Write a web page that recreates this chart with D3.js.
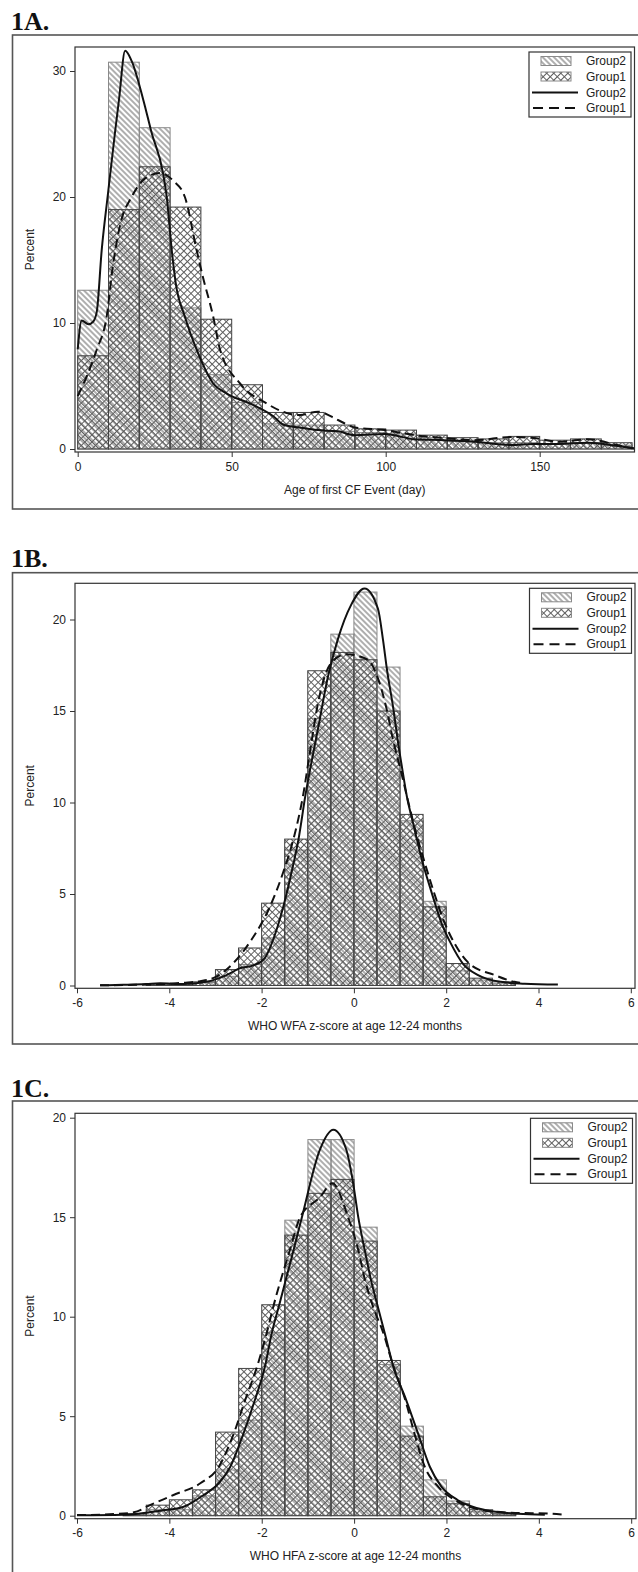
<!DOCTYPE html>
<html>
<head>
<meta charset="utf-8">
<script src="https://cdn.jsdelivr.net/npm/d3@7"></script>
<style>
  body { margin: 0; background: #fff; }
  svg { display: block; }
  text { font-family: "Liberation Sans", Arial, sans-serif; fill: #222; }
</style>
</head>
<body>
<svg id="chart" width="638" height="1572"></svg>
<script>
// ---- 1A: age of first CF event, 10 day bins (percent) ----
var binStartA = [0, 10, 20, 30, 40, 50, 60, 70, 80, 90, 100, 110, 120, 130, 140, 150, 160, 170]
var pctG2A = [12.6, 30.7, 25.5, 11.2, 5.9, 3.7, 2.0, 1.9, 1.4, 1.3, 1.2, 0.9, 0.7, 0.5, 0.5, 0.4, 0.5, 0.3]
var pctG1A = [7.4, 19.0, 22.4, 19.2, 10.3, 5.1, 2.9, 2.9, 1.9, 1.6, 1.5, 1.1, 0.9, 0.8, 1.0, 0.7, 0.8, 0.5]
var kdeG2A = [[0,7.9],[1.3,10.2],[3.5,9.9],[5,10.1],[6.2,10.9],[7.8,15.8],[9.7,20],[12.1,25.1],[13.4,27.7],
  [15.4,31.6],[17.5,30.8],[21.3,27.7],[24,25.1],[27.7,21.9],[28.9,20],[30.7,15.4],[31.8,13.2],[34.8,10.5],
  [38.6,7.9],[44,5.2],[48.4,4.4],[56,3.6],[63.5,2.6],[67,1.9],[72,1.7],[78,1.5],[84.5,1.4],[90,1.1],
  [99.7,1.2],[109.4,0.77],[119,0.7],[129,0.58],[140.7,0.32],[148,0.4],[156,0.4],[165.7,0.5],[175.4,0.24],[180.8,0.05]]
var kdeG1A = [[0,4.2],[3,5.8],[6.2,7.9],[9.4,10.5],[11.4,14.5],[14,18],[17.5,20],[22,21.5],[26.7,21.9],
  [31,21.3],[34.8,20],[38.6,15.8],[40.5,13.8],[44,10.5],[46.2,7.9],[52.7,5.2],[61.4,3.6],[67.9,2.85],
  [72.2,2.7],[78,2.96],[84.5,2.3],[90,1.7],[99.7,1.5],[109.4,1.1],[119,0.87],[129,0.7],[140.7,0.95],
  [148,0.87],[156,0.58],[165.7,0.77],[175.4,0.3],[180.8,0.02]]
var xTicksA = [0, 50, 100, 150]
var yTicksA = [0, 10, 20, 30]

// ---- 1B: WHO WFA z-score, 0.5 bins ----
var binStartB = [-4.5, -4, -3.5, -3, -2.5, -2, -1.5, -1, -0.5, 0, 0.5, 1, 1.5, 2, 2.5, 3]
var pctG2B = [0.05, 0.1, 0.15, 0.5, 1.15, 2.6, 7.4, 14.6, 19.2, 21.5, 17.4, 9.0, 4.6, 0.8, 0.3, 0.1]
var pctG1B = [0.1, 0.1, 0.2, 0.87, 2.05, 4.5, 8.0, 17.2, 18.2, 17.8, 15.0, 9.35, 4.3, 1.2, 0.4, 0.2]
var kdeG2B = [[-5.5,0.01],[-5,0.04],[-4.5,0.08],[-4.2,0.12],[-3.7,0.08],[-3.2,0.2],[-2.76,0.57],[-2.47,0.94],
  [-2.18,1.1],[-1.93,1.5],[-1.75,2.5],[-1.53,4.3],[-1.35,6.2],[-1.2,8.0],[-1.05,10.4],[-0.78,14.0],
  [-0.56,16.9],[-0.35,18.9],[-0.06,20.8],[0.23,21.7],[0.52,20.6],[0.63,18.9],[0.72,17.2],[0.85,15.2],
  [0.95,13.4],[1.05,11.8],[1.15,10.3],[1.28,8.9],[1.46,7.0],[1.67,5.2],[1.9,3.4],[2.1,2.3],[2.36,1.2],
  [2.69,0.57],[3.18,0.2],[3.7,0.1],[4.42,0.05]]
var kdeG1B = [[-5.5,0.01],[-4.5,0.05],[-3.7,0.15],[-3.33,0.24],[-2.97,0.5],[-2.61,1.23],[-2.22,2.5],
  [-1.82,4.3],[-1.53,6.2],[-1.31,8.0],[-1.1,10.4],[-0.95,12.8],[-0.78,15.4],[-0.5,17.6],[-0.17,18.1],
  [0.3,17.8],[0.48,17.06],[0.7,15.2],[0.85,13.4],[1.03,11.6],[1.2,9.8],[1.35,8.3],[1.5,7.0],[1.72,5.2],
  [1.97,3.4],[2.18,2.3],[2.5,1.2],[3.05,0.57],[3.48,0.2],[3.6,0.15]]
var xTicksB = [-6, -4, -2, 0, 2, 4, 6]
var yTicksB = [0, 5, 10, 15, 20]

// ---- 1C: WHO HFA z-score, 0.5 bins ----
var binStartC = [-5, -4.5, -4, -3.5, -3, -2.5, -2, -1.5, -1, -0.5, 0, 0.5, 1, 1.5, 2, 2.5, 3]
var pctG2C = [0.05, 0.3, 0.3, 1.0, 2.3, 4.8, 9.2, 14.85, 18.9, 18.9, 14.5, 7.6, 4.5, 1.8, 0.74, 0.2, 0.05]
var pctG1C = [0.1, 0.53, 0.8, 1.3, 4.2, 7.4, 10.6, 14.1, 16.2, 16.9, 13.8, 7.8, 4.0, 0.95, 0.6, 0.3, 0.1]
var kdeG2C = [[-6,0.02],[-5,0.05],[-4.67,0.1],[-4.2,0.25],[-3.69,0.45],[-3.26,1.04],[-2.93,1.63],[-2.68,2.46],
  [-2.4,4.1],[-2.15,5.8],[-1.93,7.5],[-1.78,9.2],[-1.62,10.6],[-1.31,13.35],[-1.13,15.0],[-0.74,18.4],
  [-0.45,19.4],[-0.17,18.4],[-0.02,16.7],[0.09,15.0],[0.23,13.35],[0.38,11.7],[0.48,10.8],[0.66,9.2],
  [0.85,7.5],[1.13,5.8],[1.39,4.1],[1.64,2.46],[1.89,1.46],[2.24,0.79],[2.83,0.29],[3.55,0.1],[4.13,0.05]]
var kdeG1C = [[-6,0.03],[-5.2,0.08],[-4.77,0.17],[-4.41,0.54],[-3.91,1.04],[-3.33,1.63],[-2.93,2.46],
  [-2.61,4.1],[-2.36,5.8],[-2.1,7.5],[-1.89,9.2],[-1.75,10.5],[-1.39,13.35],[-1.17,15.0],[-0.74,16.0],
  [-0.47,16.7],[-0.13,15.0],[0.09,13.35],[0.23,11.9],[0.41,10.5],[0.63,9.2],[0.85,7.5],[1.11,5.8],
  [1.31,4.1],[1.53,2.46],[1.82,1.46],[2.18,0.79],[2.76,0.29],[3.4,0.15],[4.27,0.1],[4.53,0.05]]
var xTicksC = [-6, -4, -2, 0, 2, 4, 6]
var yTicksC = [0, 5, 10, 15, 20]

var legendLabels = ['Group2', 'Group1', 'Group2', 'Group1']

var svg = d3.select('#chart')
var defs = svg.append('defs')

// hatch fills: Group2 single diagonal, Group1 cross hatch
var pG2 = defs.append('pattern')
    .attr('id', 'hatchG2')
    .attr('patternUnits', 'userSpaceOnUse')
    .attr('width', 4).attr('height', 4)
    .attr('patternTransform', 'rotate(-45)')
pG2.append('line')
    .attr('x1', 2).attr('y1', 0).attr('x2', 2).attr('y2', 4)
    .attr('stroke', '#5e5e5e').attr('stroke-width', 1)

var pG1 = defs.append('pattern')
    .attr('id', 'hatchG1')
    .attr('patternUnits', 'userSpaceOnUse')
    .attr('width', 5).attr('height', 5)
    .attr('patternTransform', 'rotate(45)')
pG1.append('line')
    .attr('x1', 2.5).attr('y1', 0).attr('x2', 2.5).attr('y2', 5)
    .attr('stroke', '#5e5e5e').attr('stroke-width', 1)
pG1.append('line')
    .attr('x1', 0).attr('y1', 2.5).attr('x2', 5).attr('y2', 2.5)
    .attr('stroke', '#5e5e5e').attr('stroke-width', 1)


function drawPanel(p) {
    var g = svg.append('g')

    g.append('text')
        .attr('x', 11).attr('y', p.titleY)
        .style('font-family', '"Liberation Serif", "Times New Roman", serif')
        .style('font-weight', 'bold')
        .style('font-size', '26px')
        .style('fill', '#111')
        .text(p.title)

    // outer box (runs off the right edge like the scan)
    g.append('rect')
        .attr('x', 12.5).attr('y', p.outerTop)
        .attr('width', 640).attr('height', p.outerBottom - p.outerTop)
        .attr('fill', 'none')
        .attr('stroke', '#555')
        .attr('stroke-width', 1.6)

    var x = d3.scaleLinear().domain(p.xDomain).range(p.xRange)
    var y = d3.scaleLinear().domain(p.yDomain).range(p.yRange)

    var clipId = 'clip' + p.title.replace('.', '')
    defs.append('clipPath').attr('id', clipId)
        .append('rect')
        .attr('x', p.left).attr('y', p.top)
        .attr('width', p.right - p.left).attr('height', p.bottom - p.top)

    var plot = g.append('g').attr('clip-path', 'url(#' + clipId + ')')

    // Group2 bars then Group1 on top; both are see-through hatches
    plot.selectAll('rect.g2')
        .data(p.bins)
        .join('rect')
        .attr('class', 'g2')
        .attr('x', function(d) { return x(d) })
        .attr('width', function(d) { return x(d + p.binWidth) - x(d) })
        .attr('y', function(d, i) { return y(p.g2[i]) })
        .attr('height', function(d, i) { return y(0) - y(p.g2[i]) })
        .attr('fill', 'url(#hatchG2)')
        .attr('stroke', '#8a8a8a')
        .attr('stroke-width', 1)

    plot.selectAll('rect.g1')
        .data(p.bins)
        .join('rect')
        .attr('class', 'g1')
        .attr('x', function(d) { return x(d) })
        .attr('width', function(d) { return x(d + p.binWidth) - x(d) })
        .attr('y', function(d, i) { return y(p.g1[i]) })
        .attr('height', function(d, i) { return y(0) - y(p.g1[i]) })
        .attr('fill', 'url(#hatchG1)')
        .attr('stroke', '#444')
        .attr('stroke-width', 1)

    var line = d3.line()
        .x(function(d) { return x(d[0]) })
        .y(function(d) { return y(d[1]) })
        .curve(d3.curveMonotoneX)

    plot.append('path')
        .datum(p.kdeG1)
        .attr('d', line)
        .attr('fill', 'none')
        .attr('stroke', '#111')
        .attr('stroke-width', 2)
        .attr('stroke-dasharray', '9,5')

    plot.append('path')
        .datum(p.kdeG2)
        .attr('d', line)
        .attr('fill', 'none')
        .attr('stroke', '#111')
        .attr('stroke-width', 2)

    // plot frame
    g.append('rect')
        .attr('x', p.left).attr('y', p.top)
        .attr('width', p.right - p.left).attr('height', p.bottom - p.top)
        .attr('fill', 'none')
        .attr('stroke', '#333')
        .attr('stroke-width', 1.2)

    // plain hyphen minus, like the original
    var fmt = function(d) { return String(d) }

    var yAxis = g.append('g')
        .attr('transform', 'translate(' + p.left + ',0)')
        .call(d3.axisLeft(y).tickValues(p.yTicks).tickFormat(fmt).tickSize(5).tickPadding(4))
    var xAxis = g.append('g')
        .attr('transform', 'translate(0,' + p.bottom + ')')
        .call(d3.axisBottom(x).tickValues(p.xTicks).tickFormat(fmt).tickSize(5).tickPadding(5))

    ;[yAxis, xAxis].forEach(function(a) {
        a.select('.domain').remove()
        a.selectAll('line').attr('stroke', '#333')
        a.selectAll('text')
            .style('font-family', '"Liberation Sans", Arial, sans-serif')
            .style('font-size', '12px')
            .attr('fill', '#222')
    })

    g.append('text')
        .attr('x', (p.left + p.right) / 2)
        .attr('y', p.bottom + 41.5)
        .attr('text-anchor', 'middle')
        .style('font-size', '12px')
        .text(p.xLabel)

    g.append('text')
        .attr('transform', 'translate(34,' + ((p.top + p.bottom) / 2) + ') rotate(-90)')
        .attr('text-anchor', 'middle')
        .style('font-size', '12px')
        .text('Percent')

    // legend
    var lx = p.right - 105.5
    var ly = p.top + 5
    var lg = g.append('g').attr('transform', 'translate(' + lx + ',' + ly + ')')
    lg.append('rect')
        .attr('width', 102).attr('height', 65)
        .attr('fill', '#fff')
        .attr('stroke', '#333')
        .attr('stroke-width', 1.2)

    var rowY = [9, 24.5, 40.5, 56]
    lg.append('rect').attr('x', 12).attr('y', rowY[0] - 4.5).attr('width', 30).attr('height', 9)
        .attr('fill', 'url(#hatchG2)').attr('stroke', '#8a8a8a')
    lg.append('rect').attr('x', 12).attr('y', rowY[1] - 4.5).attr('width', 30).attr('height', 9)
        .attr('fill', 'url(#hatchG1)').attr('stroke', '#8a8a8a')
    lg.append('line').attr('x1', 3).attr('x2', 49).attr('y1', rowY[2]).attr('y2', rowY[2])
        .attr('stroke', '#111').attr('stroke-width', 2)
    lg.append('line').attr('x1', 4).attr('x2', 49).attr('y1', rowY[3]).attr('y2', rowY[3])
        .attr('stroke', '#111').attr('stroke-width', 2).attr('stroke-dasharray', '10,6')

    lg.selectAll('text.lab')
        .data(legendLabels)
        .join('text')
        .attr('class', 'lab')
        .attr('x', 97)
        .attr('y', function(d, i) { return rowY[i] + 4.2 })
        .attr('text-anchor', 'end')
        .style('font-size', '12px')
        .text(function(d) { return d })
}

drawPanel({
    title: '1A.', titleY: 29.5, outerTop: 35, outerBottom: 509,
    left: 75, top: 47, right: 634.5, bottom: 452,
    xDomain: [0, 180], xRange: [77.7, 632.1],
    yDomain: [0, 30], yRange: [449, 71],
    bins: binStartA, binWidth: 10, g2: pctG2A, g1: pctG1A,
    kdeG2: kdeG2A, kdeG1: kdeG1A,
    xTicks: xTicksA, yTicks: yTicksA,
    xLabel: 'Age of first CF Event (day)'
})

drawPanel({
    title: '1B.', titleY: 566.7, outerTop: 572.7, outerBottom: 1044,
    left: 75, top: 583.3, right: 635, bottom: 988.3,
    xDomain: [-6, 6], xRange: [77, 630.8],
    yDomain: [0, 20], yRange: [985.5, 619.5],
    bins: binStartB, binWidth: 0.5, g2: pctG2B, g1: pctG1B,
    kdeG2: kdeG2B, kdeG1: kdeG1B,
    xTicks: xTicksB, yTicks: yTicksB,
    xLabel: 'WHO WFA z-score at age 12-24 months'
})

drawPanel({
    title: '1C.', titleY: 1096.7, outerTop: 1101, outerBottom: 1600,
    left: 75, top: 1113.3, right: 636, bottom: 1518.7,
    xDomain: [-6, 6], xRange: [77, 631.2],
    yDomain: [0, 20], yRange: [1515.7, 1117.7],
    bins: binStartC, binWidth: 0.5, g2: pctG2C, g1: pctG1C,
    kdeG2: kdeG2C, kdeG1: kdeG1C,
    xTicks: xTicksC, yTicks: yTicksC,
    xLabel: 'WHO HFA z-score at age 12-24 months'
})
</script>
</body>
</html>
